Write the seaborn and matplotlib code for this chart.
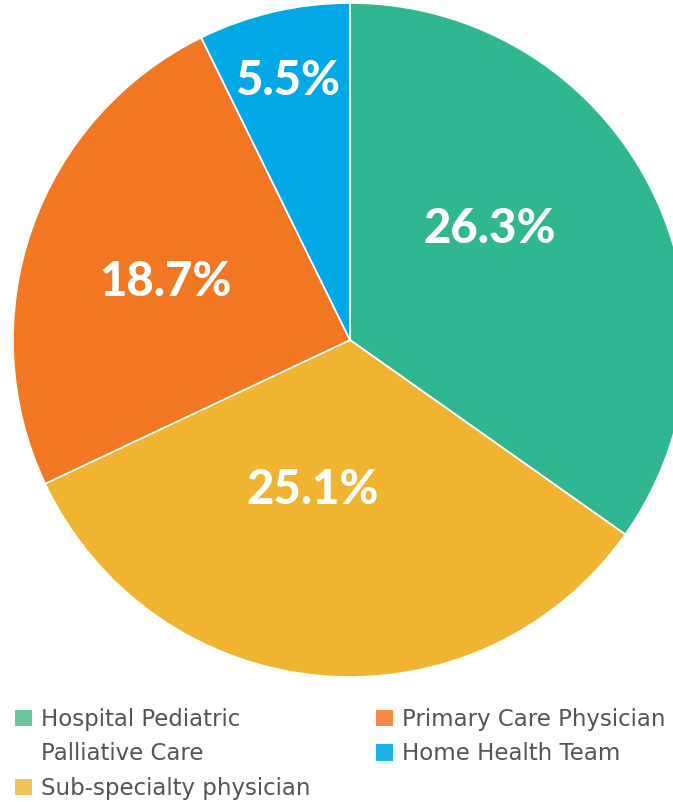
import numpy as np
import matplotlib
matplotlib.use("Agg")
import matplotlib.pyplot as plt
from matplotlib.patches import Patch
import seaborn as sns

categories = ["Hospital Pediatric\nPalliative Care", "Sub-specialty physician",
              "Primary Care Physician", "Home Health Team"]
values = [26.3, 25.1, 18.7, 5.5]
pct_labels = ["26.3%", "25.1%", "18.7%", "5.5%"]

slice_colors = ["#2FB792", "#F0B431", "#F27722", "#02A9E6"]
legend_colors = ["#6CC4A1", "#F3C15A", "#F58A45", "#1BB3E8"]
# label placement per slice: (radius, angle offset in degrees)
label_pos = [(0.53, 11), (0.46, -9), (0.575, 2), (0.79, 0.5)]

sns.set_theme(style="white")
plt.rcParams["font.family"] = ["Lato", "DejaVu Sans"]

W, H = 673, 802
cx, cy, R = 350, 340, 337
fig = plt.figure(figsize=(W / 100, H / 100), dpi=100)
ax = fig.add_axes([0, 0, 1, 1])

wedges, _ = ax.pie(values, colors=sns.color_palette(slice_colors), startangle=90,
                   counterclock=False, radius=1,
                   wedgeprops=dict(edgecolor="white", linewidth=1.2))

for w, txt, (r, off) in zip(wedges, pct_labels, label_pos):
    ang = np.deg2rad((w.theta1 + w.theta2) / 2 + off)
    ax.text(r * np.cos(ang), r * np.sin(ang), txt, ha="center", va="center",
            color="white", fontsize=34, fontweight="black")

ax.set_aspect("auto")
ax.set_xlim(-cx / R, (W - cx) / R)
ax.set_ylim((cy - H) / R, cy / R)
ax.axis("off")

# legend: wrapped first label gets a blank handle on its second line
blank = Patch(facecolor="none", edgecolor="none")
handles = [Patch(facecolor=c, edgecolor="none") for c in legend_colors]
first_line, second_line = categories[0].split("\n")
col_a = ([handles[0], blank, handles[1]], [first_line, second_line, categories[1]])
col_b = ([handles[2], handles[3]], [categories[2], categories[3]])

leg_kw = dict(loc="upper left", frameon=False,
              prop={"family": "DejaVu Sans", "size": 16.5},
              labelcolor="#555555", handlelength=0.75, handleheight=0.75,
              handletextpad=0.38, labelspacing=0.5, borderaxespad=0, borderpad=0)
fig.legend(*col_a, bbox_to_anchor=(15 / W, 1 - 708 / H), **leg_kw)
fig.legend(*col_b, bbox_to_anchor=(376 / W, 1 - 708 / H), **leg_kw)

plt.savefig("out.png", dpi=100)
